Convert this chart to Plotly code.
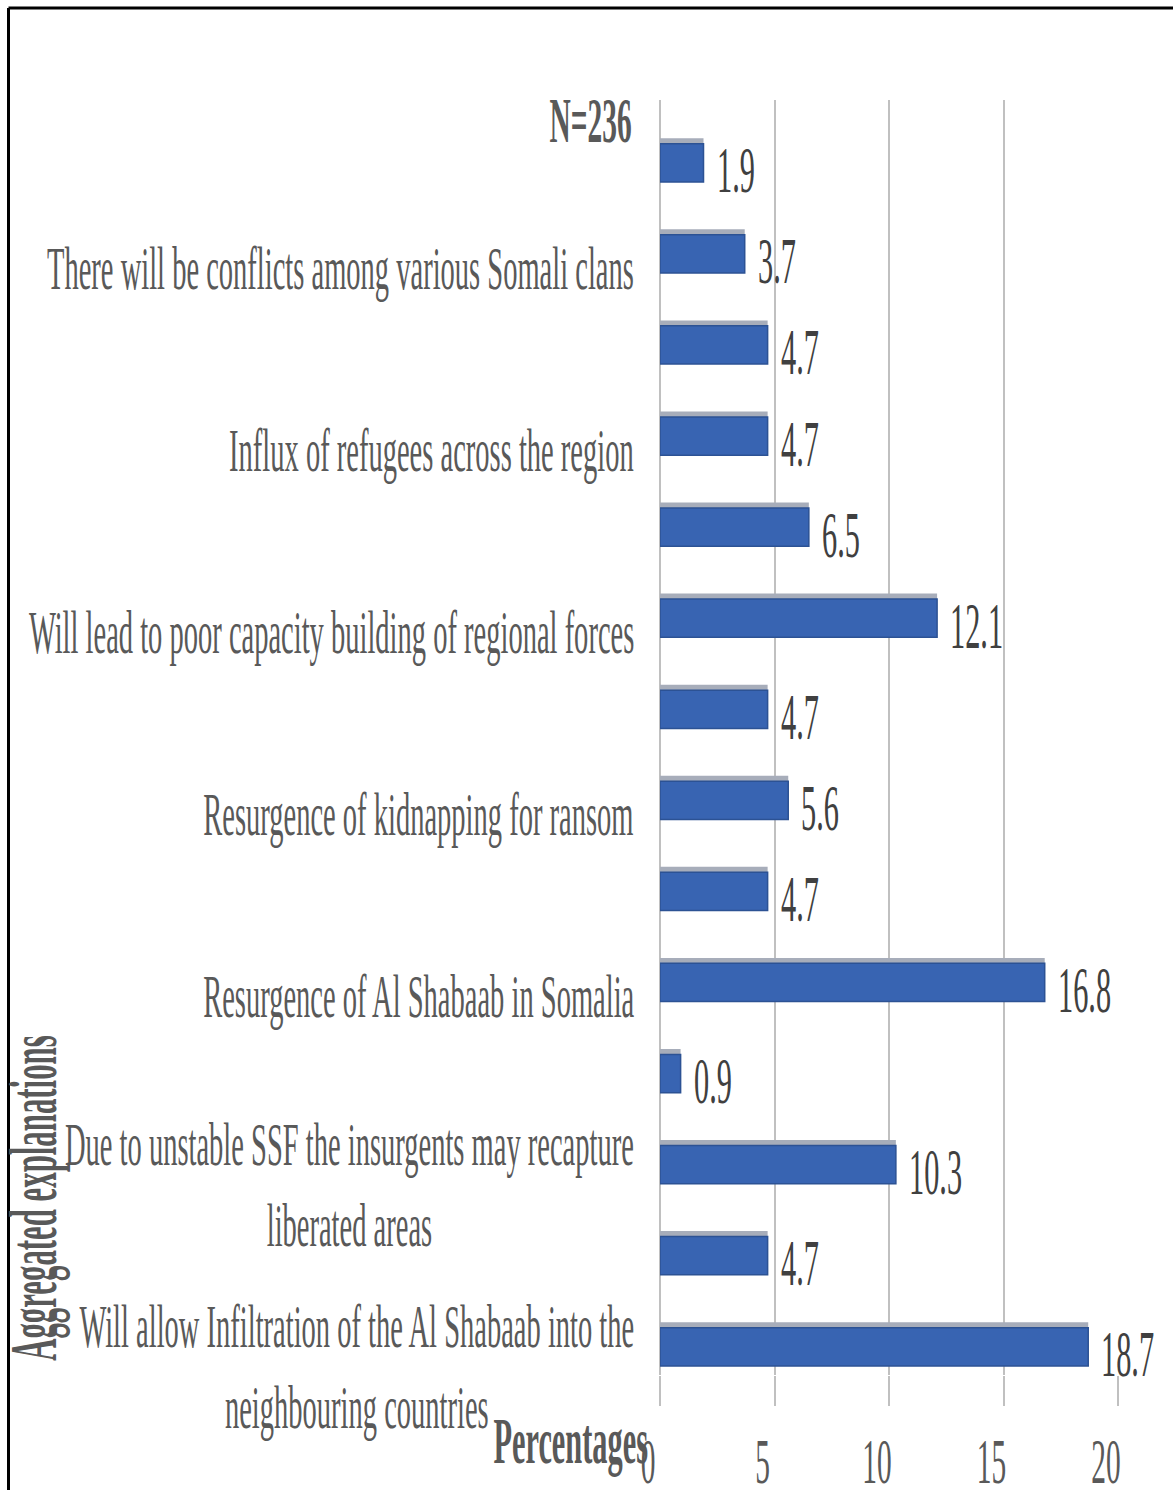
import plotly.graph_objects as go

# Share of respondents per aggregated explanation (top to bottom)
values = [1.9, 3.7, 4.7, 4.7, 6.5, 12.1, 4.7, 5.6, 4.7, 16.8, 0.9, 10.3, 4.7, 18.7]
labels = [
    "",
    "There will be conflicts among various Somali clans",
    "",
    "Influx of refugees across the region",
    "",
    "Will lead to poor capacity building of regional forces",
    "",
    "Resurgence of kidnapping for ransom",
    "",
    "Resurgence of Al Shabaab in Somalia",
    "",
    "Due to unstable SSF the insurgents may recapture<br>liberated areas",
    "",
    "Will allow Infiltration of the Al Shabaab into the<br>neighbouring countries",
]
x_ticks = [0, 5, 10, 15, 20]
sample_note = "N=236"
x_title = "Percentages"
y_title = "Aggregated explanations"

FONT = "Liberation Serif"
GREY_TXT = "#595959"
DARK_TXT = "#404040"
rows = list(range(len(values)))

# plot area in pixels (for placing paper-referenced items)
W, H = 1173, 1490
L, R, T, B = 660, 55, 100, 115
PW, PH = W - L - R, H - T - B


def px_x(px):
    return (px - L) / PW


def px_y(py):
    return (H - B - py) / PH


fig = go.Figure()

# soft grey shadow behind each bar
fig.add_trace(go.Bar(
    x=values, y=rows, orientation="h",
    width=0.48, offset=-0.27,
    marker=dict(color="#a7adba", line=dict(width=0)),
    hoverinfo="skip", showlegend=False,
))
# main bars
fig.add_trace(go.Bar(
    x=values, y=rows, orientation="h",
    width=0.42, offset=-0.21,
    marker=dict(color="#3864b2", line=dict(color="#2c5294", width=1.5)),
    showlegend=False,
))

annotations = []
# category labels
for r, lab in zip(rows, labels):
    if not lab:
        continue
    multi = "<br>" in lab
    annotations.append(dict(
        x=0, xref="paper", y=r, yref="y",
        xanchor="right", yanchor="middle",
        xshift=-24, yshift=-20 if multi else -14,
        text=lab, showarrow=False,
        align="center" if multi else "right",
        font=dict(family=FONT, size=62, color=GREY_TXT),
    ))
# value labels
for r, v in zip(rows, values):
    annotations.append(dict(
        x=v, xref="x", y=r, yref="y",
        xanchor="left", yanchor="middle",
        xshift=11, yshift=-7,
        text=f"{v}", showarrow=False, align="left",
        font=dict(family=FONT, size=66, color=DARK_TXT),
    ))
annotations += [
    dict(x=0, xref="paper", y=px_y(120), yref="paper",
         xanchor="right", yanchor="middle", xshift=-26,
         text=f"<b>{sample_note}</b>", showarrow=False, align="right",
         font=dict(family=FONT, size=64, color=GREY_TXT)),
    dict(x=0, xref="paper", y=px_y(1440), yref="paper",
         xanchor="right", yanchor="middle", xshift=-10,
         text=f"<b>{x_title}</b>", showarrow=False, align="right",
         font=dict(family=FONT, size=66, color=GREY_TXT)),
    dict(x=px_x(33), xref="paper", y=px_y(1198), yref="paper",
         xanchor="center", yanchor="middle", textangle=-90,
         text=f"<b>{y_title}</b>", showarrow=False,
         font=dict(family=FONT, size=67, color=GREY_TXT)),
]

# outer frame (top and left edges)
frame_x, frame_y = px_x(8.5), px_y(8)
shapes = [
    dict(type="line", xref="paper", yref="paper",
         x0=frame_x, x1=1.3, y0=frame_y, y1=frame_y,
         line=dict(color="black", width=3)),
    dict(type="line", xref="paper", yref="paper",
         x0=frame_x, x1=frame_x, y0=frame_y, y1=-0.2,
         line=dict(color="black", width=3)),
]

fig.update_layout(
    width=W, height=H,
    margin=dict(l=L, r=R, t=T, b=B, pad=0, autoexpand=False),
    paper_bgcolor="white", plot_bgcolor="white",
    barmode="overlay",
    font=dict(family=FONT, color=GREY_TXT),
    annotations=annotations,
    shapes=shapes,
    xaxis=dict(
        range=[0, 20], tickvals=x_ticks, ticktext=[str(t) for t in x_ticks],
        automargin=False,
        showgrid=True, gridcolor="#c0c0c0", gridwidth=2,
        zeroline=True, zerolinecolor="#c0c0c0", zerolinewidth=2,
        showline=False,
        ticks="outside", ticklen=30, tickcolor="#c0c0c0", tickwidth=2,
        ticklabelstandoff=0, ticklabelshift=-12,
        tickfont=dict(family=FONT, size=64, color=GREY_TXT),
    ),
    yaxis=dict(
        range=[len(values) - 0.69, -0.69],
        automargin=False,
        showticklabels=False, showgrid=False, zeroline=False,
        showline=False, ticks="",
    ),
)

# Condense every text run horizontally (narrow typesetting), keeping each
# run pinned at its alignment edge.
post = """
var gd = document.getElementById('{plot_id}');
var S = 0.46;
gd.querySelectorAll('text').forEach(function(t){
  if (!t.textContent.trim()) return;
  var bb = t.getBBox();
  var anc = t.getAttribute('text-anchor') || 'start';
  var lines = t.querySelectorAll('tspan.line').length;
  var isAnn = t.classList.contains('annotation-text');
  var ax;
  if (anc === 'start') ax = bb.x;
  else if (anc === 'end' || (isAnn && lines > 1)) ax = bb.x + bb.width;
  else ax = bb.x + bb.width / 2;
  var tr = t.getAttribute('transform') || '';
  t.setAttribute('transform', tr + ' translate(' + ax + ',0) scale(' + S + ',1) translate(' + (-ax) + ',0)');
});
"""

fig.write_html("out.html", config={"displayModeBar": False}, post_script=post)
